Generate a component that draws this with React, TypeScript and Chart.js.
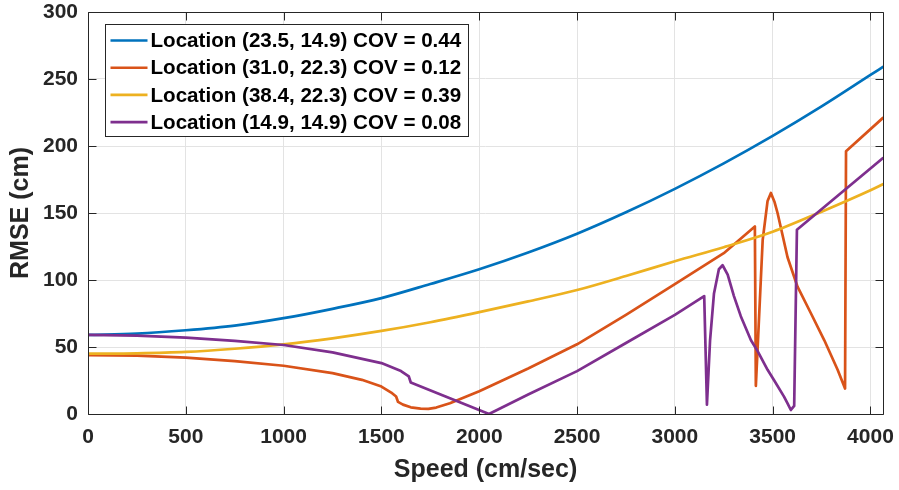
import React, { useEffect, useRef } from "react";
import { Chart, registerables } from "chart.js";

Chart.register(...registerables);

// ---- Data ----
const seriesLabels = [
  "Location (23.5, 14.9) COV = 0.44",
  "Location (31.0, 22.3) COV = 0.12",
  "Location (38.4, 22.3) COV = 0.39",
  "Location (14.9, 14.9) COV = 0.08",
];
const seriesColors = ["#0072BD", "#D95319", "#EDB120", "#7E2F8E"];
const seriesSmooth = [true, false, true, false];

const blueX = [0, 250, 500, 750, 1000, 1250, 1500, 1750, 2000, 2250, 2500, 2750, 3000, 3250, 3500, 3750, 4000, 4064];
const blueY = [59, 60, 62.5, 66, 71.5, 78.5, 86.5, 97, 108, 120.5, 134.5, 150.5, 168, 187, 207.5, 229.5, 253, 259];

const orangeX = [0, 250, 500, 750, 1000, 1250, 1400, 1500, 1550, 1575, 1585, 1610, 1650, 1700, 1740, 1780, 1850, 1900, 2000, 2250, 2500, 2750, 3000, 3250, 3409, 3414, 3425, 3449, 3474, 3491, 3510, 3525, 3576, 3627, 3696, 3764, 3832, 3870, 3875, 4064];
const orangeY = [44, 43.5, 42, 39.5, 36, 30.5, 25.5, 20.5, 16, 13, 9, 7, 5, 4, 3.8, 4.8, 8, 11, 17, 34, 52, 74, 97, 120, 140, 21, 55, 130, 159, 165, 158, 150, 117, 95, 75, 55, 33, 19, 196, 221];

const yellowX = [0, 250, 500, 750, 1000, 1250, 1500, 1750, 2000, 2250, 2500, 2750, 3000, 3250, 3500, 3750, 4000, 4064];
const yellowY = [45, 45.3, 46.3, 48.7, 52, 56.5, 62, 68.5, 76, 84, 92.5, 103, 114, 124.5, 136, 151, 167, 171.5];

const purpleX = [0, 250, 500, 750, 1000, 1250, 1500, 1600, 1640, 1650, 2050, 2250, 2500, 2750, 3000, 3150, 3164, 3180, 3200, 3225, 3244, 3270, 3302, 3337, 3389, 3423, 3474, 3508, 3558, 3576, 3593, 3610, 3624, 4064];
const purpleY = [59, 58.5, 57, 54.5, 51.5, 46, 38, 32, 28, 23.5, 0, 14.5, 32, 53, 74, 88, 7, 55, 90, 108, 111, 104, 88, 73, 55, 47, 33, 25, 13, 8, 3, 6, 137.5, 191];

const seriesX = [blueX, orangeX, yellowX, purpleX];
const seriesY = [blueY, orangeY, yellowY, purpleY];

const xTicks = [0, 500, 1000, 1500, 2000, 2500, 3000, 3500, 4000];
const yTicks = [0, 50, 100, 150, 200, 250, 300];
const xMin = 0;
const xMax = 4064;
const yMin = 0;
const yMax = 300;
const xTitle = "Speed (cm/sec)";
const yTitle = "RMSE (cm)";

const FONT = "'Liberation Sans', Arial, Helvetica, sans-serif";
const AXIS_COLOR = "#262626";

const matlabPlugin = {
  id: "matlabDecor",
  afterDraw(chart: any) {
    const { ctx, chartArea: a, scales } = chart;
    const x = scales.x;
    const y = scales.y;
    ctx.save();
    ctx.strokeStyle = AXIS_COLOR;
    ctx.lineWidth = 1;
    const line = (x1: number, y1: number, x2: number, y2: number) => {
      ctx.beginPath();
      ctx.moveTo(x1, y1);
      ctx.lineTo(x2, y2);
      ctx.stroke();
    };
    const L = Math.round(a.left) + 0.5;
    const R = Math.round(a.right) + 0.5;
    const T = Math.round(a.top) + 0.5;
    const B = Math.round(a.bottom) + 0.5;
    line(L, T, R, T);
    line(R, T, R, B);
    line(L, B, R, B);
    line(L, T, L, B);
    const tl = 8;
    x.ticks.forEach((t: any) => {
      const px = Math.round(x.getPixelForValue(t.value)) + 0.5;
      line(px, B, px, B - tl);
      line(px, T, px, T + tl);
    });
    y.ticks.forEach((t: any) => {
      const py = Math.round(y.getPixelForValue(t.value)) + 0.5;
      line(L, py, L + tl, py);
      line(R, py, R - tl, py);
    });

    // Legend inside the axes (top-left)
    const bx = Math.round(a.left) + 17.5;
    const by = Math.round(a.top) + 12.5;
    const bw = 363;
    const bh = 112;
    ctx.fillStyle = "#ffffff";
    ctx.fillRect(bx, by, bw, bh);
    ctx.strokeStyle = AXIS_COLOR;
    ctx.lineWidth = 1;
    ctx.strokeRect(bx, by, bw, bh);
    const rowH = 27.2;
    chart.data.datasets.forEach((ds: any, i: number) => {
      const cy = by + 16 + i * rowH;
      ctx.strokeStyle = ds.borderColor;
      ctx.lineWidth = 2.6;
      line(bx + 5, cy, bx + 42, cy);
      ctx.fillStyle = "#000000";
      ctx.font = `bold 20.6px ${FONT}`;
      ctx.textBaseline = "middle";
      ctx.textAlign = "left";
      ctx.fillText(ds.label, bx + 45, cy + 1);
    });
    ctx.restore();
  },
};

export default function App() {
  const canvasRef = useRef<HTMLCanvasElement | null>(null);

  useEffect(() => {
    document.body.style.margin = "0";
    const canvas = canvasRef.current;
    if (!canvas) return;
    const datasets = seriesLabels.map((label, i) => ({
      label,
      data: seriesX[i].map((xv, j) => ({ x: xv, y: seriesY[i][j] })),
      borderColor: seriesColors[i],
      backgroundColor: seriesColors[i],
      borderWidth: 2.7,
      pointRadius: 0,
      tension: 0,
      cubicInterpolationMode: seriesSmooth[i] ? ("monotone" as const) : ("default" as const),
      fill: false,
      order: 4 - i,
      borderJoinStyle: "round" as const,
      borderCapStyle: "round" as const,
    }));
    const chart = new Chart(canvas, {
      type: "line",
      data: { datasets },
      options: {
        animation: false,
        responsive: false,
        maintainAspectRatio: false,
        layout: { padding: { top: 12, right: 16, left: 0, bottom: 0 } },
        plugins: {
          legend: { display: false },
          tooltip: { enabled: false },
        },
        scales: {
          x: {
            type: "linear",
            min: xMin,
            max: xMax,
            afterFit: (s: any) => {
              s.height = 76;
              s.paddingLeft = 0;
              s.paddingRight = 0;
            },
            afterBuildTicks: (s: any) => {
              s.ticks = xTicks.map((v) => ({ value: v }));
            },
            ticks: {
              autoSkip: false,
              color: AXIS_COLOR,
              font: { family: FONT, size: 21, weight: "bold" },
              padding: 11,
              maxRotation: 0,
              callback: (v: any) => String(v),
            },
            grid: { color: "#e3e3e3", drawTicks: false, lineWidth: 1 },
            border: { display: false },
            title: {
              display: true,
              text: xTitle,
              color: AXIS_COLOR,
              font: { family: FONT, size: 25, weight: "bold" },
              padding: { top: 0, bottom: 5 },
            },
          },
          y: {
            type: "linear",
            min: yMin,
            max: yMax,
            afterFit: (s: any) => {
              s.width = 88;
              s.paddingTop = 0;
              s.paddingBottom = 0;
            },
            afterBuildTicks: (s: any) => {
              s.ticks = yTicks.map((v) => ({ value: v }));
            },
            ticks: {
              autoSkip: false,
              color: AXIS_COLOR,
              font: { family: FONT, size: 21, weight: "bold" },
              padding: 10,
              callback: (v: any) => String(v),
            },
            grid: { color: "#e3e3e3", drawTicks: false, lineWidth: 1 },
            border: { display: false },
            title: {
              display: true,
              text: yTitle,
              color: AXIS_COLOR,
              font: { family: FONT, size: 25, weight: "bold" },
              padding: { top: 6, bottom: 0 },
            },
          },
        },
      },
      plugins: [matlabPlugin],
    });
    return () => chart.destroy();
  }, []);

  return (
    <div style={{ width: 899, height: 490, background: "#ffffff" }}>
      <canvas ref={canvasRef} width={899} height={490} style={{ display: "block" }} />
    </div>
  );
}
